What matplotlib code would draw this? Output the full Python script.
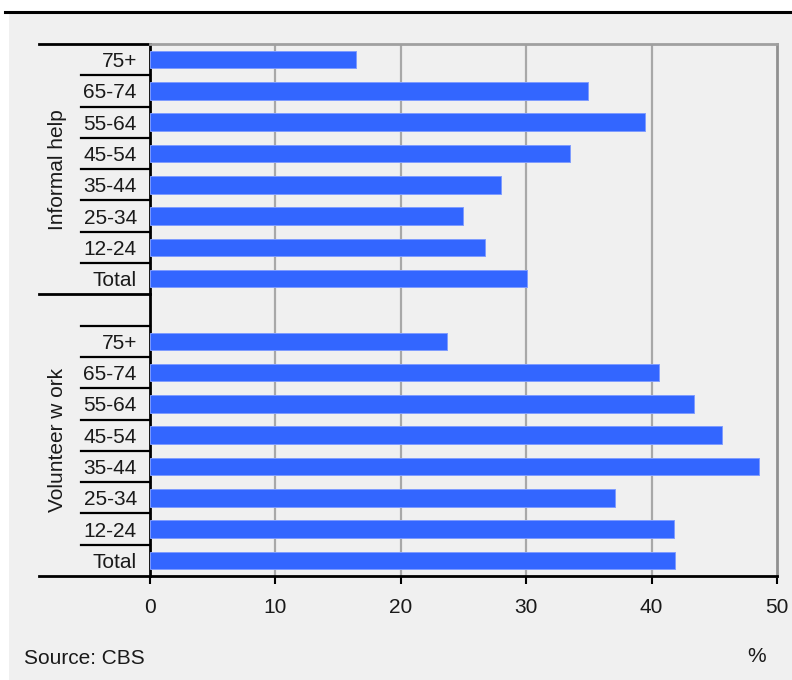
import matplotlib
matplotlib.use("Agg")
import matplotlib.pyplot as plt
from matplotlib.lines import Line2D
from matplotlib.patches import Rectangle
from matplotlib.transforms import blended_transform_factory

plt.rcParams["font.family"] = ["Liberation Sans", "DejaVu Sans"]

age_groups = ["75+", "65-74", "55-64", "45-54", "35-44", "25-34", "12-24", "Total"]
informal_help = [16.4, 34.9, 39.5, 33.5, 28.0, 25.0, 26.7, 30.1]
volunteer_work = [23.7, 40.6, 43.4, 45.6, 48.6, 37.1, 41.8, 41.9]
group_names = ["Informal help", "Volunteer w ork"]
x_ticks = [0, 10, 20, 30, 40, 50]

BAR = "#3366ff"
BG = "#f0f0f0"
TXT = "#1a1a1a"
W, H = 792, 680

fig = plt.figure(figsize=(W / 100, H / 100), dpi=100, facecolor="white")

# grey panel and the black rule above it
fig.patches.append(Rectangle((9 / W, 0), 1, (H - 13.5) / H, transform=fig.transFigure,
                             facecolor=BG, edgecolor="none", zorder=-10))
fig.lines.append(Line2D([5 / W, 1], [1 - 12 / H, 1 - 12 / H], transform=fig.transFigure,
                        color="black", lw=2.2))

left, right, top, bottom = 150, 777, 44, 576
ax = fig.add_axes([left / W, (H - bottom) / H, (right - left) / W, (bottom - top) / H])
ax.set_facecolor(BG)

# two groups of eight rows with one empty slot between them
n = len(age_groups)
pos_a = list(range(n))
pos_b = [n + 1 + i for i in range(n)]
ax.barh(pos_a, informal_help, height=0.56, color=BAR, edgecolor="#7f9cff", lw=0.7, zorder=3)
ax.barh(pos_b, volunteer_work, height=0.56, color=BAR, edgecolor="#7f9cff", lw=0.7, zorder=3)

ax.set_xlim(0, 50)
ax.set_ylim(2 * n + 0.5, -0.5)
ax.set_xticks(x_ticks)
ax.set_xticklabels([str(t) for t in x_ticks], fontsize=15, color=TXT)
ax.tick_params(axis="x", length=6, width=1.5, color="black", pad=10)
ax.set_yticks(pos_a + pos_b)
ax.set_yticklabels(age_groups + age_groups, fontsize=15, color=TXT)
ax.tick_params(axis="y", length=0, pad=9.5)

for t in x_ticks[1:-1]:
    ax.axvline(t, color="#a8a8a8", lw=1.6, zorder=1)

ax.spines["left"].set_color("black")
ax.spines["left"].set_linewidth(2)
ax.spines["bottom"].set_color("black")
ax.spines["bottom"].set_linewidth(2)
ax.spines["top"].set_color("#a0a0a0")
ax.spines["top"].set_linewidth(2)
ax.spines["right"].set_color("#909090")
ax.spines["right"].set_linewidth(2)

# category table lines left of the axis
tr = blended_transform_factory(ax.transAxes, ax.transData)
x_inner = (81 - left) / (right - left)
x_outer = (39 - left) / (right - left)
for y in [p + 0.5 for p in pos_a[:-1]] + [pos_b[0] - 0.5] + [p + 0.5 for p in pos_b[:-1]]:
    ax.plot([x_inner, 0], [y, y], transform=tr, color="black", lw=1.6, clip_on=False)
for y in [-0.5, n - 0.5, 2 * n + 0.5]:
    ax.plot([x_outer, 0], [y, y], transform=tr, color="black", lw=2, clip_on=False)

x_group = (57 - left) / (right - left)
ax.text(x_group, (pos_a[0] + pos_a[-1]) / 2, group_names[0], transform=tr, rotation=90,
        ha="center", va="center", fontsize=15, color=TXT)
ax.text(x_group, (pos_b[0] + pos_b[-1]) / 2 - 0.35, group_names[1], transform=tr, rotation=90,
        ha="center", va="center", fontsize=15, color=TXT)

fig.text(24 / W, 1 - 658 / H, "Source: CBS", ha="left", va="center", fontsize=15, color=TXT)
fig.text(757 / W, 1 - 656 / H, "%", ha="center", va="center", fontsize=15, color=TXT)

fig.savefig("out.png", dpi=100, facecolor=fig.get_facecolor())
